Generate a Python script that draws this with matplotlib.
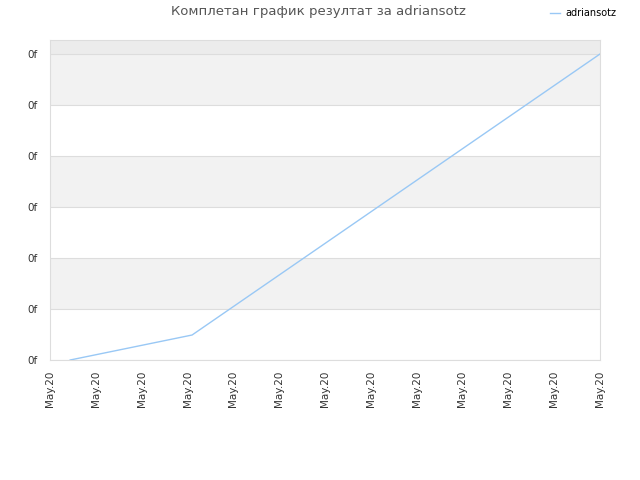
import matplotlib
matplotlib.use("Agg")
import matplotlib.pyplot as plt

# data
series_name = "adriansotz"
x_vals = [0.44, 3.1, 12.0]
y_vals = [0.0, 0.49, 6.0]
x_ticks = list(range(13))
x_labels = ["May.20"] * 13
y_ticks = [0, 1, 2, 3, 4, 5, 6]
y_labels = ["0f"] * 7
title = "Комплетан график резултат за adriansotz"

fig = plt.figure(figsize=(6.4, 4.8), dpi=100)
ax = fig.add_axes([50/640, 120/480, 550/640, 320/480])

ymax = 6 + 14/51
ax.set_xlim(0, 12)
ax.set_ylim(0, ymax)

# alternating bands
ax.axhspan(6, ymax, color="#ececec", zorder=0, lw=0)
for i in range(6):
    if i % 2 == 1:
        ax.axhspan(i, i + 1, color="#f2f2f2", zorder=0, lw=0)

for y in y_ticks:
    ax.axhline(y, color="#dddddd", lw=0.8, zorder=1)

ax.plot(x_vals, y_vals, color="#99c8f5", lw=1.0, zorder=3, label=series_name)

ax.set_xticks(x_ticks)
ax.set_xticklabels(x_labels, rotation=90, fontsize=7.5, color="#333333")
ax.set_yticks(y_ticks)
ax.set_yticklabels(y_labels, fontsize=7.5, color="#333333")
ax.tick_params(length=0)
ax.tick_params(axis="y", pad=9)
ax.tick_params(axis="x", pad=8)

for s in ax.spines.values():
    s.set_color("#dddddd")
    s.set_linewidth(0.8)

fig.text(318/640, 1 - 12/480, title, ha="center", va="center", fontsize=9.5, color="#555555")

leg = fig.legend(loc="center left", bbox_to_anchor=(546/640, 1 - 13/480), frameon=False,
                 fontsize=7, handlelength=1.0, handletextpad=0.6, borderaxespad=0)

fig.savefig("out.png", dpi=100)
